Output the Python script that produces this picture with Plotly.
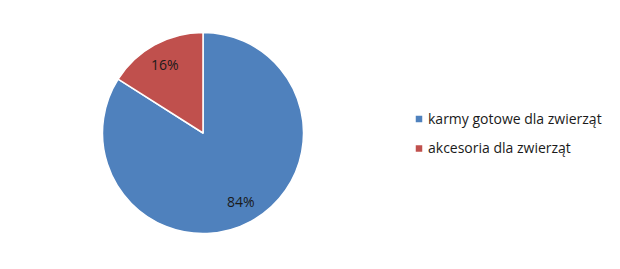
import math
import plotly.graph_objects as go

labels = ["karmy gotowe dla zwierząt", "akcesoria dla zwierząt"]
values = [84, 16]
colors = ["#4F81BD", "#C0504D"]

W, H = 620, 269
cx, cy, r = 203, 133, 100.5  # pie centre / radius in px

dom_x = [(cx - r) / W, (cx + r) / W]
dom_y = [1 - (cy + r) / H, 1 - (cy - r) / H]

fig = go.Figure(go.Pie(
    labels=labels, values=values,
    marker=dict(colors=colors, line=dict(color="white", width=1.5)),
    sort=False, direction="clockwise", rotation=0,
    textinfo="none", hoverinfo="label+percent",
    domain=dict(x=dom_x, y=dom_y),
    showlegend=False,
))

font = dict(family="Open Sans, Liberation Sans, sans-serif", size=14, color="#1a1a1a")

# percentage labels placed along each slice's mid-angle
total = sum(values)
cum = 0
annotations = []
for v in values:
    mid = (cum + v / 2) / total * 2 * math.pi
    cum += v
    px = cx + 0.78 * r * math.sin(mid)
    py = cy - 0.78 * r * math.cos(mid)
    annotations.append(dict(x=px / W, y=1 - py / H, xref="paper", yref="paper",
                            text=f"{round(v / total * 100)}%", showarrow=False, font=font,
                            xanchor="center", yanchor="middle"))

# legend
shapes = []
leg_x, leg_y0, leg_dy, sq = 419, 119, 29.5, 6.5
for i, (lab, col) in enumerate(zip(labels, colors)):
    y = leg_y0 + i * leg_dy
    shapes.append(dict(type="rect", xref="paper", yref="paper",
                       x0=(leg_x - sq / 2) / W, x1=(leg_x + sq / 2) / W,
                       y0=1 - (y + sq / 2) / H, y1=1 - (y - sq / 2) / H,
                       fillcolor=col, line=dict(width=0)))
    annotations.append(dict(x=426 / W, y=1 - (y - 1) / H, xref="paper", yref="paper",
                            text=lab, showarrow=False, font=font,
                            xanchor="left", yanchor="middle"))

fig.update_layout(
    width=W, height=H,
    margin=dict(l=0, r=0, t=0, b=0),
    paper_bgcolor="white", plot_bgcolor="white",
    annotations=annotations, shapes=shapes,
)

fig.write_html("out.html")
